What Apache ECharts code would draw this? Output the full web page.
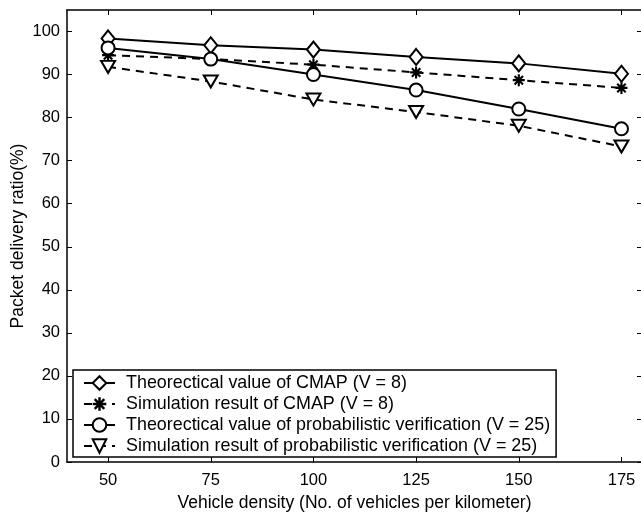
<!DOCTYPE html>
<html>
<head>
<meta charset="utf-8">
<script src="https://cdn.jsdelivr.net/npm/echarts@6/dist/echarts.min.js"></script>
<style>
  html, body { margin: 0; padding: 0; background: #fff; }
  #chart { width: 641px; height: 514px; }
</style>
</head>
<body>
<div id="chart"></div>
<script>
// vehicle density (vehicles per km)
var densities = [50, 75, 100, 125, 150, 175];
var yTicks = [0, 10, 20, 30, 40, 50, 60, 70, 80, 90, 100];

var theoCmap = [98.4, 96.8, 95.8, 94.1, 92.6, 90.2];
var simCmap = [94.5, 93.6, 92.3, 90.5, 88.7, 86.9];
var theoProb = [96.2, 93.6, 90.0, 86.4, 82.0, 77.4];
var simProb = [91.8, 88.4, 84.2, 81.3, 78.1, 73.3];

var names = [
    'Theorectical value of CMAP (V = 8)',
    'Simulation result of CMAP (V = 8)',
    'Theorectical value of probabilistic verification (V = 25)',
    'Simulation result of probabilistic verification (V = 25)'
];

// asterisk marker, matlab style (plus + cross)
var asterisk = 'path://M0 8.2L20 8.2L20 11.8L0 11.8Z M8.2 0L11.8 0L11.8 20L8.2 20Z ' +
    'M1.7 4.2L4.2 1.7L18.3 15.8L15.8 18.3Z M15.8 1.7L18.3 4.2L4.2 18.3L1.7 15.8Z';

function pairs(vals) {
    return densities.map(function (d, i) { return [d, vals[i]]; });
}

function makeSeries(name, vals, dashed, symbol, size, rotate) {
    var solidMark = symbol === asterisk;
    return {
        name: name,
        type: 'line',
        data: pairs(vals),
        symbol: symbol,
        symbolSize: size,
        symbolRotate: rotate || 0,
        showAllSymbol: true,
        animation: false,
        lineStyle: { color: '#000', width: 2, type: dashed ? [8, 6] : 'solid' },
        itemStyle: { color: solidMark ? '#000' : '#fff', borderColor: '#000', borderWidth: solidMark ? 0 : 2 },
        emphasis: { disabled: true }
    };
}

var font = 'Liberation Sans';
var dom = document.getElementById('chart');
var myChart = echarts.init(dom);
var option = {
    backgroundColor: '#fff',
    animation: false,
    grid: { left: 67, top: 10, right: -1, bottom: 52, containLabel: false, outerBoundsMode: 'none' },
    legend: {
        orient: 'vertical',
        left: 73,
        top: 370,
        itemWidth: 31,
        itemHeight: 17,
        itemGap: 1,
        padding: [3, 6, 1, 10],
        borderColor: '#000',
        borderWidth: 1.5,
        backgroundColor: '#fff',
        textStyle: { fontFamily: font, fontSize: 17.9, lineHeight: 20, color: '#000', padding: [0, 0, 0, 6] },
        data: names
    },
    xAxis: [{
        type: 'value',
        min: 40,
        max: 180,
        name: 'Vehicle density (No. of vehicles per kilometer)',
        nameLocation: 'middle',
        nameGap: 32,
        nameMoveOverlap: false,
        nameTextStyle: { fontFamily: font, fontSize: 17.5, color: '#000' },
        axisLine: { lineStyle: { color: '#000', width: 1.5 } },
        axisTick: { inside: true, length: 5, customValues: densities, lineStyle: { color: '#000' } },
        axisLabel: { customValues: densities, fontFamily: font, fontSize: 16.5, color: '#000', margin: 10 },
        splitLine: { show: false }
    }, {
        type: 'value',
        position: 'top',
        min: 40,
        max: 180,
        axisLine: { onZero: false, lineStyle: { color: '#000', width: 1.5 } },
        axisTick: { inside: true, length: 5, customValues: densities, lineStyle: { color: '#000' } },
        axisLabel: { show: false },
        splitLine: { show: false }
    }],
    yAxis: [{
        type: 'value',
        min: 0,
        max: 105,
        interval: 10,
        name: 'Packet delivery ratio(%)',
        nameLocation: 'middle',
        nameGap: 40,
        nameMoveOverlap: false,
        nameTextStyle: { fontFamily: font, fontSize: 17.5, color: '#000' },
        axisLine: { lineStyle: { color: '#000', width: 1.5 } },
        axisTick: { inside: true, length: 5, customValues: yTicks, lineStyle: { color: '#000' } },
        axisLabel: { customValues: yTicks, fontFamily: font, fontSize: 16.5, color: '#000', margin: 7 },
        splitLine: { show: false }
    }, {
        type: 'value',
        position: 'right',
        min: 0,
        max: 105,
        interval: 10,
        axisLine: { show: true, onZero: false, lineStyle: { color: '#000', width: 1.5 } },
        axisTick: { show: true, inside: true, length: 5, customValues: yTicks, lineStyle: { color: '#000' } },
        axisLabel: { show: false },
        splitLine: { show: false }
    }],
    series: [
        makeSeries(names[0], theoCmap, false, 'diamond', [13, 16]),
        makeSeries(names[1], simCmap, true, asterisk, 12),
        makeSeries(names[2], theoProb, false, 'circle', 13),
        makeSeries(names[3], simProb, true, 'triangle', [14, 12], 180)
    ]
};
if (option && typeof option === "object") {
    myChart.setOption(option, true);
}
</script>
</body>
</html>
